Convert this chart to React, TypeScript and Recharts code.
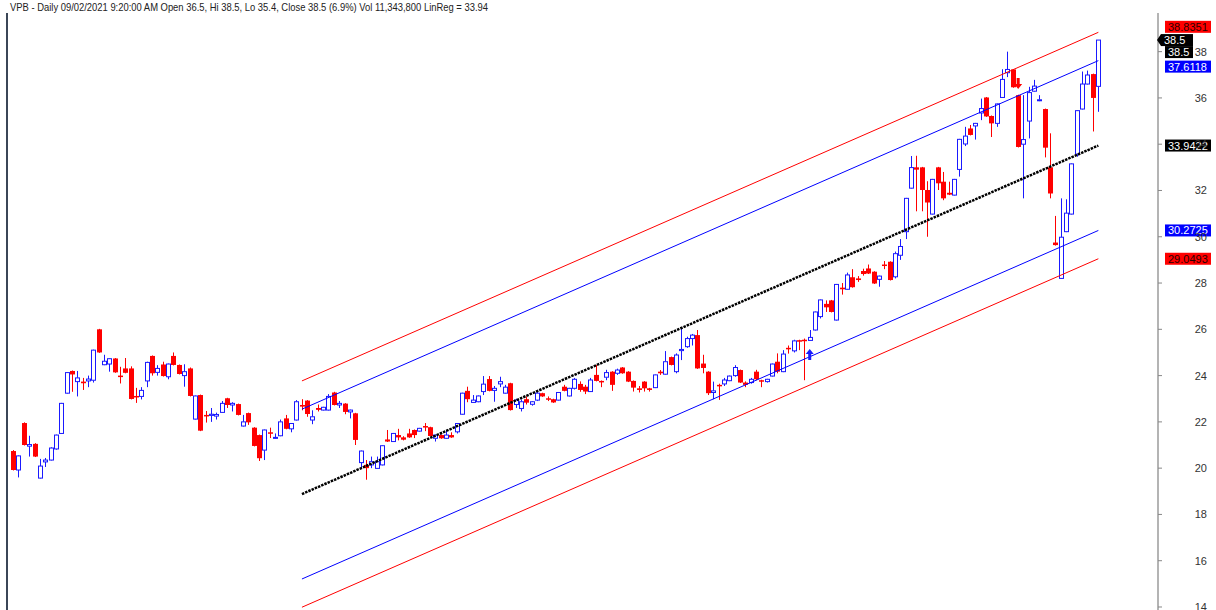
import { ComposedChart, Bar, Scatter, XAxis, YAxis, ReferenceLine, ReferenceDot } from "recharts";

const title =
  "VPB - Daily 09/02/2021 9:20:00 AM Open 36.5, Hi 38.5, Lo 35.4, Close 38.5 (6.9%) Vol 11,343,800 LinReg = 33.94";

// daily bars, oldest first
const opens = [
  20.74, 19.92, 21.95, 20.95, 21.05, 19.57, 20.27, 20.35, 20.83, 21.5,
  23.24, 24.2, 23.74, 23.74, 23.77, 23.8, 26.0, 24.47, 24.5, 24.74,
  24.0, 24.31, 24.31, 23.12, 23.1, 23.77, 24.85, 24.14, 24.48, 23.95,
  24.85, 24.46, 24.0, 24.31, 22.12, 23.16, 22.3, 22.28, 22.25, 22.41,
  23.02, 22.73, 22.77, 21.82, 22.38, 21.75, 21.43, 20.78, 21.55, 21.3,
  21.4, 22.15, 21.7, 22.08, 22.73, 22.92, 22.08, 22.6, 22.51, 22.51,
  23.27, 22.73, 22.79, 22.43, 22.37, 20.24, 20.14, 20.14, 19.99, 20.14,
  21.24, 21.15, 21.43, 21.33, 21.5, 21.65, 21.6, 21.82, 21.77, 21.29,
  21.43, 21.29, 21.43, 21.57, 22.33, 23.34, 22.84, 22.87, 23.31, 23.85,
  23.36, 23.64, 23.24, 23.67, 22.75, 22.58, 22.98, 22.76, 22.94, 23.24,
  23.02, 22.98, 22.94, 23.52, 23.12, 23.45, 23.64, 23.52, 23.31, 24.03,
  23.77, 23.93, 24.17, 24.1, 24.35, 24.17, 23.77, 23.45, 23.74, 23.45,
  23.48, 24.17, 24.06, 24.8, 24.17, 25.08, 25.25, 25.6, 25.75, 24.52,
  24.17, 23.27, 23.6, 23.64, 23.78, 24.0, 24.24, 23.7, 23.7, 24.17,
  23.8, 23.74, 23.98, 24.6, 24.17, 25.2, 25.07, 25.53, 25.55, 25.52,
  25.97, 26.55, 27.1, 27.25, 26.4, 27.8, 27.73, 28.25, 28.2, 28.52,
  28.63, 28.49, 28.16, 28.8, 28.92, 28.27, 29.2, 30.22, 32.1, 33.0,
  33.0, 32.02, 30.98, 33.0, 32.38, 31.9, 31.8, 32.91, 34.01, 34.68,
  34.79, 35.35, 36.02, 35.22, 34.9, 36.02, 37.09, 37.23, 36.12, 34.0,
  35.0, 36.29, 35.88, 35.52, 33.0, 29.75, 28.2, 30.22, 30.98, 33.57,
  35.52, 36.6, 37.03, 36.5,
];
const highs = [
  20.78, 20.55, 21.98, 21.4, 21.08, 20.4, 20.44, 20.9, 21.45, 22.82,
  24.15, 24.22, 24.2, 23.9, 24.0, 25.12, 26.02, 24.9, 24.75, 24.76,
  24.38, 24.76, 24.4, 23.47, 23.5, 24.6, 24.87, 24.45, 24.6, 24.52,
  25.0, 24.48, 24.49, 24.35, 23.14, 23.18, 22.47, 22.6, 22.4, 22.9,
  23.04, 22.85, 22.79, 22.3, 22.4, 21.77, 21.45, 21.67, 21.75, 21.5,
  22.1, 22.3, 21.95, 22.94, 22.98, 22.94, 22.5, 22.75, 22.65, 23.2,
  23.3, 22.9, 22.81, 22.53, 22.39, 20.76, 20.35, 20.5, 20.5, 20.99,
  21.65, 21.52, 21.7, 21.38, 21.7, 21.67, 21.74, 21.95, 21.79, 21.45,
  21.45, 21.65, 21.55, 21.95, 23.26, 23.52, 23.16, 23.14, 23.98, 23.98,
  23.55, 23.95, 23.6, 23.69, 23.0, 22.97, 23.1, 22.9, 23.3, 23.26,
  23.1, 23.0, 23.29, 23.6, 23.47, 23.9, 23.75, 23.6, 23.9, 24.46,
  23.79, 24.25, 24.19, 24.3, 24.37, 24.19, 23.79, 23.55, 23.76, 23.47,
  24.05, 24.24, 25.06, 24.82, 24.96, 26.1, 25.68, 25.8, 25.97, 24.9,
  24.19, 23.74, 23.65, 23.9, 24.0, 24.45, 24.26, 23.75, 23.9, 24.25,
  23.82, 23.86, 24.52, 24.96, 25.1, 25.3, 25.55, 25.55, 25.6, 25.97,
  26.77, 27.29, 27.25, 27.27, 27.96, 28.0, 28.45, 28.6, 28.3, 28.62,
  28.8, 28.51, 28.32, 28.95, 28.94, 29.36, 29.9, 31.68, 33.49, 33.5,
  33.02, 32.4, 32.5, 33.02, 32.8, 32.38, 32.5, 34.23, 34.75, 34.83,
  34.92, 35.97, 36.04, 35.24, 35.76, 37.24, 38.0, 37.25, 36.14, 36.12,
  36.48, 36.78, 36.12, 35.54, 34.47, 30.9, 31.66, 31.62, 33.17, 35.47,
  37.14, 37.18, 37.05, 38.5,
];
const lows = [
  19.9, 19.6, 20.98, 20.5, 20.48, 19.55, 20.05, 20.33, 20.8, 21.48,
  23.22, 23.3, 23.1, 23.38, 23.5, 23.7, 24.98, 24.45, 24.17, 24.12,
  23.66, 24.1, 22.97, 22.82, 22.97, 23.5, 24.0, 24.0, 23.96, 23.84,
  24.44, 24.05, 23.52, 23.1, 22.1, 21.6, 21.97, 22.0, 22.1, 22.39,
  22.6, 22.45, 22.28, 21.8, 21.87, 20.94, 20.31, 20.35, 21.3, 21.28,
  21.38, 21.68, 21.55, 22.06, 22.5, 22.22, 21.9, 22.45, 22.49, 22.49,
  22.71, 22.6, 22.33, 22.15, 21.0, 20.0, 19.5, 20.0, 19.97, 20.12,
  21.13, 21.13, 21.2, 21.2, 21.31, 21.3, 21.58, 21.6, 21.37, 21.15,
  21.27, 21.27, 21.31, 21.5, 22.31, 22.85, 22.82, 22.85, 23.16, 23.32,
  22.87, 23.5, 23.22, 22.49, 22.6, 22.45, 22.75, 22.7, 22.9, 23.08,
  22.9, 22.82, 22.92, 23.32, 23.1, 23.4, 23.3, 23.2, 23.29, 23.75,
  23.5, 23.8, 23.34, 24.03, 24.08, 23.72, 23.31, 23.27, 23.31, 23.31,
  23.46, 24.03, 24.04, 24.44, 24.1, 24.67, 25.2, 25.3, 24.29, 24.1,
  23.16, 22.98, 22.95, 23.55, 23.76, 23.95, 23.68, 23.5, 23.65, 23.8,
  23.5, 23.7, 23.96, 24.1, 24.15, 24.95, 25.0, 25.1, 23.8, 25.5,
  25.95, 26.47, 26.75, 26.73, 26.38, 27.5, 27.71, 27.8, 28.05, 28.32,
  28.39, 27.96, 27.84, 28.6, 28.11, 28.2, 29.0, 29.9, 32.08, 31.1,
  31.1, 30.0, 30.96, 32.02, 31.58, 31.8, 31.78, 32.6, 33.92, 34.38,
  34.2, 35.04, 35.18, 34.31, 34.75, 36.0, 36.9, 36.44, 33.86, 31.66,
  34.25, 36.27, 35.86, 33.43, 31.66, 29.62, 28.18, 30.2, 30.96, 33.46,
  35.5, 36.58, 34.55, 35.4,
];
const closes = [
  19.92, 20.53, 21.0, 21.02, 20.5, 20.09, 20.35, 20.87, 21.43, 22.8,
  24.13, 24.05, 23.9, 23.67, 23.85, 25.1, 25.0, 24.62, 24.73, 24.14,
  23.95, 24.12, 22.99, 23.06, 23.36, 24.57, 24.1, 24.31, 23.98, 24.5,
  24.46, 24.07, 24.17, 23.12, 23.12, 21.62, 22.25, 22.33, 22.32, 22.8,
  22.73, 22.8, 22.3, 22.0, 21.98, 20.96, 20.43, 21.65, 21.5, 21.33,
  22.0, 21.7, 21.93, 22.87, 22.66, 22.34, 22.22, 22.52, 22.63, 23.1,
  22.73, 22.8, 22.43, 22.51, 21.22, 20.74, 20.0, 20.28, 20.28, 20.97,
  21.15, 21.5, 21.33, 21.23, 21.33, 21.43, 21.72, 21.77, 21.39, 21.43,
  21.29, 21.43, 21.33, 21.93, 23.24, 22.98, 22.94, 23.12, 23.63, 23.34,
  23.45, 23.74, 23.5, 22.51, 22.94, 22.87, 22.83, 22.87, 23.24, 23.1,
  22.98, 22.84, 23.27, 23.34, 23.45, 23.84, 23.38, 23.31, 23.81, 23.77,
  23.74, 24.13, 23.6, 24.24, 24.1, 23.74, 23.48, 23.38, 23.45, 23.38,
  24.03, 24.1, 24.6, 24.46, 24.89, 25.13, 25.6, 25.75, 24.31, 24.33,
  23.24, 23.34, 23.56, 23.81, 23.98, 24.35, 23.7, 23.6, 23.84, 23.84,
  23.76, 23.84, 24.5, 24.17, 24.93, 25.15, 25.5, 25.5, 25.5, 25.65,
  26.75, 27.27, 26.95, 26.75, 27.94, 27.73, 28.35, 27.82, 28.13, 28.39,
  28.41, 27.98, 28.3, 28.75, 28.13, 29.27, 29.58, 31.66, 32.99, 32.9,
  32.02, 31.48, 32.48, 32.31, 31.66, 31.82, 32.48, 34.21, 34.35, 34.4,
  34.9, 35.54, 35.2, 34.9, 35.74, 36.8, 37.23, 36.46, 33.88, 34.2,
  36.23, 36.51, 35.92, 33.85, 31.87, 29.64, 29.98, 31.02, 33.15, 35.45,
  36.6, 36.99, 36.0, 38.5,
];

const yTicks = [14, 16, 18, 20, 22, 24, 26, 28, 30, 32, 34, 36, 38];

// linear regression channel (150 bars): values at first and last bar
const channelIdx = [55, 204];
const midLine = [18.88, 33.9422];
const upperBlue = [22.55, 37.6118];
const lowerBlue = [15.21, 30.2725];
const upperRed = [23.77, 38.8351];
const lowerRed = [13.99, 29.0493];

// signal arrows (bar index, tip price)
const signalIdx = [150, 189];
const signalPrice = [25.15, 36.39];
const signalDir = ["up", "down"];

// price tags on the axis
const tagValues = [38.8351, 38.5, 38.5, 37.6118, 33.9422, 30.2725, 29.0493];
const tagKinds = ["red", "last", "close", "blue", "black", "blue", "red"];

const UP = "#1a1aff";
const DOWN = "#ff0000";
const X_DOMAIN: [number, number] = [-0.18, 215.16];
const Y_DOMAIN: [number, number] = [13.87, 39.67];

const bars = opens.map((o, k) => ({
  i: k + 1,
  o,
  h: highs[k],
  l: lows[k],
  c: closes[k],
  range: [lows[k], highs[k]],
}));

const signals = signalIdx.map((i, k) => ({ i, y: signalPrice[k], dir: signalDir[k] }));

const Candle = (props: any) => {
  const { x, y, width, height, payload } = props;
  if (x == null || y == null) return null;
  const { o, h, l, c } = payload;
  const py = (v: number) => y + ((h - v) / (h - l)) * height;
  const n = Math.round(x + width / 2);
  const cx = n + 0.5;
  const top = py(Math.max(o, c));
  const bot = py(Math.min(o, c));
  if (c >= o) {
    return (
      <g>
        <line x1={cx} x2={cx} y1={y} y2={top} stroke={UP} strokeWidth={1} />
        <line x1={cx} x2={cx} y1={bot} y2={y + height} stroke={UP} strokeWidth={1} />
        <rect x={n - 1.5} y={top} width={4} height={Math.max(bot - top, 1)} fill="#fff" stroke={UP} strokeWidth={1} />
      </g>
    );
  }
  return (
    <g>
      <line x1={cx} x2={cx} y1={y} y2={y + height} stroke={DOWN} strokeWidth={1} />
      <rect x={n - 2} y={top} width={5} height={Math.max(bot - top, 1.5)} fill={DOWN} />
    </g>
  );
};

const Arrow = (props: any) => {
  const { cx, cy, payload } = props;
  if (cx == null || cy == null) return null;
  const s = payload.dir === "up" ? 1 : -1;
  const color = payload.dir === "up" ? UP : DOWN;
  const pts = [
    [cx, cy],
    [cx - 4, cy + 5 * s],
    [cx - 1.5, cy + 5 * s],
    [cx - 1.5, cy + 11 * s],
    [cx + 1.5, cy + 11 * s],
    [cx + 1.5, cy + 5 * s],
    [cx + 4, cy + 5 * s],
  ]
    .map((p) => p.join(","))
    .join(" ");
  return <polygon points={pts} fill={color} />;
};

const tagStyle: Record<string, { bg: string; fg: string; x: number; w: number; dy: number }> = {
  red: { bg: "#ff0000", fg: "#2a0000", x: 1165, w: 46, dy: 0 },
  blue: { bg: "#0000ff", fg: "#ffffff", x: 1165, w: 46, dy: 0 },
  black: { bg: "#000000", fg: "#ffffff", x: 1165, w: 46, dy: 0 },
  last: { bg: "#000000", fg: "#ffffff", x: 1161, w: 32, dy: 0 },
  close: { bg: "#000000", fg: "#ffffff", x: 1165, w: 28, dy: 12 },
};
const tagNudge = [-5.5, 0, 0, 6, 0, 0, 0];

const makeTag = (k: number) => (props: any) => {
  const { cy } = props;
  if (cy == null) return null;
  const st = tagStyle[tagKinds[k]];
  const yc = cy + st.dy + tagNudge[k];
  return (
    <g>
      {tagKinds[k] === "last" && (
        <polygon points={`1157,${yc} ${st.x},${yc - 6} ${st.x},${yc + 6}`} fill={st.bg} />
      )}
      <rect x={st.x} y={yc - 6} width={st.w} height={12} fill={st.bg} />
      <text
        x={st.x + 3}
        y={yc + 4}
        fontSize={11}
        fontFamily="'Liberation Sans', Arial, sans-serif"
        fill={st.fg}
      >
        {tagValues[k]}
      </text>
    </g>
  );
};

const renderTick = (props: any) => {
  const { x, y, payload } = props;
  return (
    <text
      x={x + 43}
      y={y + 4}
      textAnchor="end"
      fontSize={11}
      fontFamily="'Liberation Sans', Arial, sans-serif"
      fill="#333"
    >
      {payload.value}
    </text>
  );
};

const seg = (vals: number[]) => [
  { x: channelIdx[0], y: vals[0] },
  { x: channelIdx[1], y: vals[1] },
];

export default function App() {
  return (
    <div style={{ position: "relative", width: 1216, height: 610, background: "#fff", overflow: "hidden" }}>
      <style>{"body{margin:0}"}</style>
      <svg width={1216} height={14} style={{ position: "absolute", left: 0, top: 0 }}>
        <text
          x={10}
          y={11}
          fontSize={11}
          fontFamily="'Liberation Sans', Arial, sans-serif"
          fill="#222"
          textLength={478}
          lengthAdjust="spacingAndGlyphs"
        >
          {title}
        </text>
      </svg>
      <div style={{ position: "absolute", left: 6, top: 13, width: 2, height: 597, background: "#3b4657" }} />
      <ComposedChart
        width={1216}
        height={610}
        data={bars}
        margin={{ top: 13, right: 0, bottom: 0, left: 7 }}
      >
        <XAxis dataKey="i" type="number" domain={X_DOMAIN} allowDataOverflow hide />
        <YAxis
          orientation="right"
          domain={Y_DOMAIN}
          ticks={yTicks}
          interval={0}
          allowDataOverflow
          width={58}
          axisLine={{ stroke: "#b4b4b4", strokeWidth: 2 }}
          tickLine={{ stroke: "#888" }}
          tickSize={4}
          tick={renderTick}
        />
        <ReferenceLine segment={seg(upperRed)} stroke="#ff0000" strokeWidth={1} ifOverflow="visible" />
        <ReferenceLine segment={seg(lowerRed)} stroke="#ff0000" strokeWidth={1} ifOverflow="visible" />
        <ReferenceLine segment={seg(upperBlue)} stroke="#0000ff" strokeWidth={1} ifOverflow="visible" />
        <ReferenceLine segment={seg(lowerBlue)} stroke="#0000ff" strokeWidth={1} ifOverflow="visible" />
        <ReferenceLine
          segment={seg(midLine)}
          stroke="#000"
          strokeWidth={2.5}
          strokeDasharray="2.5 1"
          ifOverflow="visible"
        />
        <Bar dataKey="range" barSize={5} shape={Candle} isAnimationActive={false} />
        <Scatter data={signals} dataKey="y" shape={Arrow} isAnimationActive={false} />
        {tagValues.map((v, k) => (
          <ReferenceDot
            key={k}
            x={X_DOMAIN[1]}
            y={v}
            ifOverflow="visible"
            shape={makeTag(k)}
          />
        ))}
      </ComposedChart>
    </div>
  );
}
